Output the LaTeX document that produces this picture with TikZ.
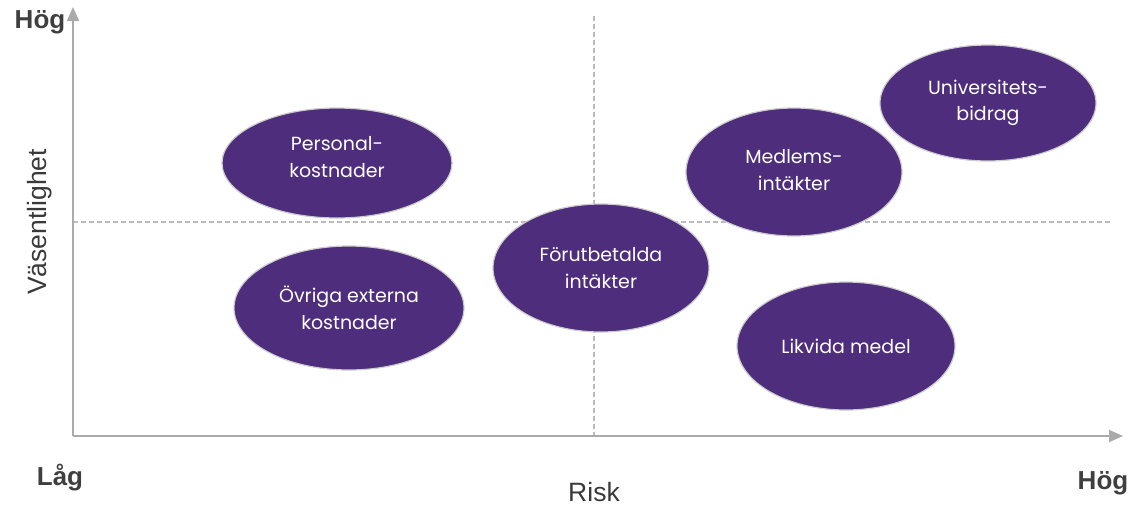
\documentclass[tikz,border=0pt]{standalone}
\usepackage{fontspec}
\setmainfont{Liberation Sans}
\newfontfamily\bubblefont{Poppins}
\usetikzlibrary{arrows.meta,shapes.geometric}
\definecolor{axisgray}{HTML}{AAAAAA}
\definecolor{dashgray}{HTML}{BBBBBB}
\definecolor{bubble}{HTML}{4E2D7C}
\definecolor{labelgray}{HTML}{3F3F3F}
\tikzset{
  axis/.style={draw=axisgray, line width=2pt, -{Triangle[length=14pt,width=12pt]}},
  guide/.style={draw=dashgray, line width=1.2pt, dash pattern=on 5pt off 3pt},
  bubblenode/.style={ellipse, fill=bubble, draw=black!20, line width=1.2pt,
    text=white, align=center,
    font=\bubblefont\fontsize{19}{26.5}\selectfont},
  bubbletext/.style={text=white, align=center,
    font=\bubblefont\fontsize{19}{26.5}\selectfont},
  axlabel/.style={text=labelgray, font=\fontsize{26}{28}\selectfont\bfseries},
  axname/.style={text=labelgray!90!black, font=\fontsize{26.5}{28}\selectfont},
}
\begin{document}
\begin{tikzpicture}[x=1pt,y=-1pt]
\useasboundingbox (0,0) rectangle (1135,507);
% guides
\coordinate (vt) at (594,16);
\coordinate (vb) at (594,436);
\coordinate (hl) at (73,222);
\coordinate (hr) at (1110,222);
\draw[guide] (vt) -- (vb);
\draw[guide] (hl) -- (hr);
% axes
\coordinate (o) at (73,436);
\coordinate (yt) at (73,7);
\coordinate (xr) at (1123,436);
\draw[axis] (o) -- (yt);
\draw[axis] (o) -- (xr);
% bubbles
\node[bubblenode, minimum width=230pt, minimum height=110pt] (pk) at (337,163) {};
\node[bubbletext] (pkt) at (337,157) {Personal-\\kostnader};
\node[bubblenode, minimum width=230pt, minimum height=124pt] (ok) at (349,308) {Övriga externa\\kostnader};
\node[bubblenode, minimum width=216pt, minimum height=128pt] (fi) at (601,268) {Förutbetalda\\intäkter};
\node[bubblenode, minimum width=216pt, minimum height=128pt] (mi) at (794,172) {};
\node[bubbletext] (mit) at (794,170) {Medlems-\\intäkter};
\node[bubblenode, minimum width=216pt, minimum height=116pt] (ub) at (988,103) {Universitets-\\bidrag};
\node[bubblenode, minimum width=218pt, minimum height=128pt] (lm) at (846,346) {Likvida medel};
% labels
\node[axlabel] (hy) at (40,22) {Hög};
\node[axlabel] (lg) at (60,478) {Låg};
\node[axlabel] (hx) at (1103,483) {Hög};
\node[axname] (risk) at (594,492) {Risk};
\node[axname, rotate=90] (vs) at (40,222) {Väsentlighet};
\end{tikzpicture}
\end{document}
